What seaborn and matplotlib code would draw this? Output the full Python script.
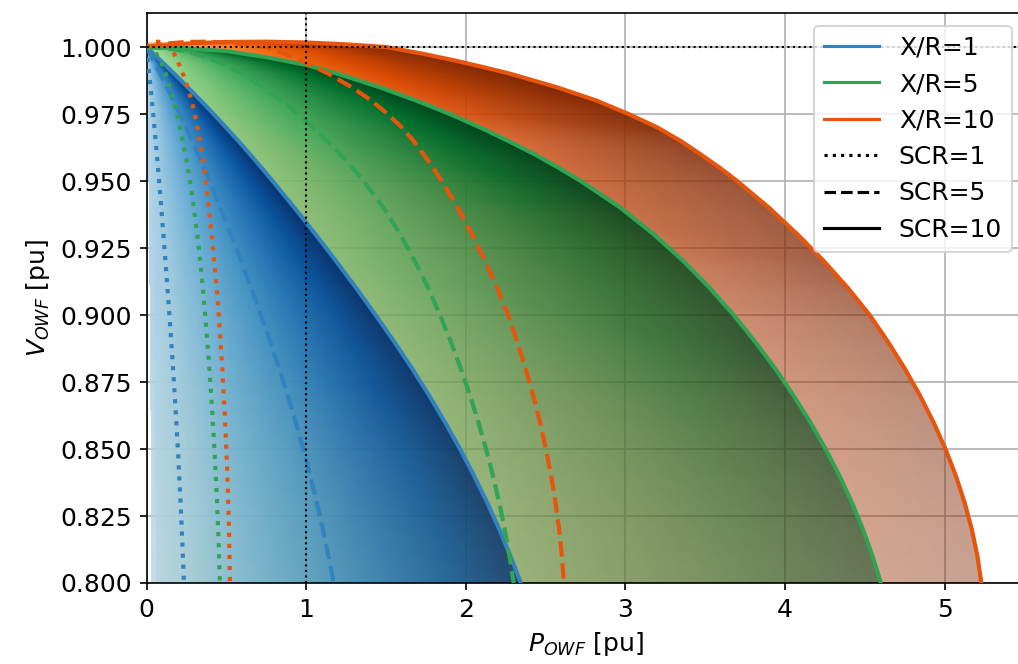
import numpy as np
import pandas as pd
import matplotlib
matplotlib.use("Agg")
import matplotlib.pyplot as plt
from matplotlib.lines import Line2D
import seaborn as sns

plt.rcParams['font.size'] = 12

# ---- values: V_OWF [pu] and P_OWF [pu] per curve ----
# X/R = 1
v_xr1 = [1.000, 0.995, 0.990, 0.985, 0.980, 0.975, 0.970, 0.965, 0.960, 0.955,
         0.950, 0.940, 0.930, 0.920, 0.910, 0.900, 0.890, 0.880, 0.870, 0.860,
         0.850, 0.840, 0.830, 0.820, 0.810, 0.800]
p_xr1_scr10 = [0, 0.088, 0.174, 0.258, 0.340, 0.420, 0.498, 0.574, 0.648, 0.720,
               0.790, 0.927, 1.060, 1.189, 1.314, 1.435, 1.552, 1.664, 1.770, 1.870,
               1.964, 2.052, 2.134, 2.210, 2.280, 2.345]
p_xr1_scr5 = [0, 0.044, 0.087, 0.129, 0.170, 0.210, 0.249, 0.287, 0.324, 0.360,
              0.395, 0.4635, 0.530, 0.5945, 0.657, 0.7175, 0.776, 0.832, 0.885, 0.935,
              0.982, 1.026, 1.067, 1.105, 1.140, 1.1725]
p_xr1_scr1 = [0, 0.0088, 0.0174, 0.0258, 0.034, 0.042, 0.0498, 0.0574, 0.0648, 0.072,
              0.079, 0.0927, 0.106, 0.1189, 0.1314, 0.1435, 0.1552, 0.1664, 0.177, 0.187,
              0.1964, 0.2052, 0.2134, 0.221, 0.228, 0.2345]

# X/R = 5
v_xr5 = [1.000, 0.9995, 0.9985, 0.9962, 0.9933, 0.990, 0.985, 0.980, 0.975, 0.970,
         0.965, 0.960, 0.955, 0.950, 0.940, 0.930, 0.920, 0.910, 0.900, 0.890,
         0.880, 0.870, 0.860, 0.850, 0.840, 0.830, 0.820, 0.810, 0.800]
p_xr5_scr10 = [0, 0.25, 0.5, 0.75, 1.0, 1.20, 1.46, 1.69, 1.90, 2.09,
               2.265, 2.43, 2.58, 2.72, 2.97, 3.18, 3.365, 3.53, 3.678, 3.813,
               3.938, 4.053, 4.158, 4.254, 4.341, 4.419, 4.488, 4.548, 4.60]
p_xr5_scr5 = [0, 0.125, 0.25, 0.375, 0.5, 0.60, 0.73, 0.845, 0.95, 1.045,
              1.1325, 1.215, 1.29, 1.36, 1.485, 1.59, 1.6825, 1.765, 1.839, 1.9065,
              1.969, 2.0265, 2.079, 2.127, 2.1705, 2.2095, 2.244, 2.274, 2.30]
p_xr5_scr1 = [0, 0.025, 0.05, 0.075, 0.1, 0.12, 0.146, 0.169, 0.19, 0.209,
              0.2265, 0.243, 0.258, 0.272, 0.297, 0.318, 0.3365, 0.353, 0.3678, 0.3813,
              0.3938, 0.4053, 0.4158, 0.4254, 0.4341, 0.4419, 0.4488, 0.4548, 0.46]

# X/R = 10 (first rises a little above 1 pu)
v_xr10 = [1.000, 1.0013, 1.0019, 1.0020, 1.0017, 1.0010, 1.000, 0.9975, 0.995,
          0.9925, 0.990, 0.985, 0.980, 0.975, 0.970, 0.965, 0.960, 0.955, 0.950,
          0.940, 0.930, 0.920, 0.910, 0.900, 0.890, 0.880, 0.870, 0.860, 0.850,
          0.840, 0.830, 0.820, 0.810, 0.800]
p_xr10_scr10 = [0, 0.25, 0.5, 0.75, 1.0, 1.25, 1.5, 1.73, 1.93,
                2.11, 2.28, 2.57, 2.82, 3.02, 3.20, 3.345, 3.47, 3.59, 3.70,
                3.90, 4.08, 4.245, 4.395, 4.53, 4.645, 4.75, 4.845, 4.93, 5.005,
                5.07, 5.125, 5.17, 5.205, 5.23]
p_xr10_scr5 = [0, 0.125, 0.25, 0.375, 0.5, 0.625, 0.75, 0.865, 0.965,
               1.055, 1.14, 1.285, 1.41, 1.51, 1.60, 1.672, 1.735, 1.795, 1.85,
               1.95, 2.04, 2.122, 2.198, 2.265, 2.322, 2.375, 2.422, 2.465, 2.502,
               2.535, 2.562, 2.585, 2.602, 2.615]
p_xr10_scr1 = [0, 0.025, 0.05, 0.075, 0.1, 0.125, 0.15, 0.173, 0.193,
               0.211, 0.228, 0.257, 0.282, 0.302, 0.32, 0.334, 0.347, 0.359, 0.37,
               0.39, 0.408, 0.424, 0.44, 0.453, 0.464, 0.475, 0.484, 0.493, 0.5,
               0.507, 0.512, 0.517, 0.52, 0.523]

xr_labels = ['X/R=1', 'X/R=5', 'X/R=10']
line_colors = ['#3182bd', '#31a354', '#e6550d']
shade_cmaps = ['Blues', 'Greens', 'Oranges']

curves = {
    ('X/R=1', 10): (p_xr1_scr10, v_xr1),
    ('X/R=1', 5): (p_xr1_scr5, v_xr1),
    ('X/R=1', 1): (p_xr1_scr1, v_xr1),
    ('X/R=5', 10): (p_xr5_scr10, v_xr5),
    ('X/R=5', 5): (p_xr5_scr5, v_xr5),
    ('X/R=5', 1): (p_xr5_scr1, v_xr5),
    ('X/R=10', 10): (p_xr10_scr10, v_xr10),
    ('X/R=10', 5): (p_xr10_scr5, v_xr10),
    ('X/R=10', 1): (p_xr10_scr1, v_xr10),
}
df = pd.concat([pd.DataFrame({'P': p, 'V': v, 'XR': xr, 'SCR': scr})
                for (xr, scr), (p, v) in curves.items()], ignore_index=True)

# figure geometry (the right spine sits just past the picture edge)
W_FIG, H_FIG, DPI = 1018, 664, 150
fig = plt.figure(figsize=(W_FIG / DPI, H_FIG / DPI), dpi=DPI)
ax_l, ax_b, ax_w, ax_h = 146.5, 81, 878, 570
ax = fig.add_axes([ax_l / W_FIG, ax_b / H_FIG, ax_w / W_FIG, ax_h / H_FIG])
xlim = (0, 5.5)
ylim = (0.8, 1.0127)

# ---- shading of the weaker grids (SCR < 10), drawn as one image ----
sx = ax_w / (xlim[1] - xlim[0])
sy = ax_h / (ylim[1] - ylim[0])
P = xlim[0] + (np.arange(int(ax_w)) + 0.5) / sx
V = ylim[1] - (np.arange(ax_h) + 0.5) / sy

LW_PX, ALPHA, DT, C0, TMIN = 2.5, 0.72, 0.005, 0.3, 0.012


def coverage(n):
    k = np.floor(n)
    f = n - k
    return (1 - f) * (1 - (1 - ALPHA) ** k) + f * (1 - (1 - ALPHA) ** (k + 1))


rgb = np.zeros((len(V), len(P), 3))
A = np.zeros((len(V), len(P)))
for xr, cmap_name in list(zip(xr_labels, shade_cmaps))[::-1]:
    p, v = curves[(xr, 10)]
    p = np.asarray(p, float)
    v = np.asarray(v, float)
    k = np.argmax(v)
    vs, ps = v[k:][::-1], p[k:][::-1]
    F = np.interp(V, vs, ps, left=np.nan, right=np.nan)
    valid = np.isfinite(F) & (F > 1e-6)
    idx = np.where(valid)[0]
    dF = np.zeros(len(V))
    g = np.gradient(F[idx], V[idx])
    g = np.convolve(np.pad(g, 7, mode='edge'), np.ones(15) / 15, mode='valid')
    dF[idx] = g
    with np.errstate(all='ignore'):
        FF = F[:, None]
        t = P[None, :] / FF
        gp = 1 / (FF * sx)
        gv = P[None, :] * np.abs(dF)[:, None] / (FF ** 2 * sy)
        n = np.clip(LW_PX * np.hypot(gp, gv) / DT, 0, 60)
        a = coverage(n)
        mask = valid[:, None] & (t >= TMIN) & (t <= 1)
        a = np.nan_to_num(np.where(mask, a, 0.0))
    col = plt.get_cmap(cmap_name)(C0 + (1 - C0) * np.clip(np.nan_to_num(t), 0, 1))[..., :3]
    rgb = col * a[..., None] + rgb * (1 - a[..., None])
    A = a + A * (1 - a)

img = np.clip(np.dstack([rgb / np.maximum(A, 1e-9)[..., None], A]), 0, 1)
ax.imshow(img, extent=(xlim[0], xlim[1], ylim[0], ylim[1]), origin='upper',
          aspect='auto', interpolation='nearest', zorder=1)

# ---- main curves ----
palette = dict(zip(xr_labels, line_colors))
for scr, ls in [(10, '-'), (5, '--'), (1, ':')]:
    sns.lineplot(data=df[df['SCR'] == scr], x='P', y='V', hue='XR',
                 hue_order=xr_labels, palette=palette, sort=False,
                 estimator=None, lw=2, linestyle=ls, legend=False,
                 ax=ax, zorder=3)

ax.axvline(1, color='k', ls=':', lw=1, zorder=4)
ax.axhline(1, color='k', ls=':', lw=1, zorder=4)

ax.set_xlim(*xlim)
ax.set_ylim(*ylim)
ax.set_xticks([0, 1, 2, 3, 4, 5])
ax.set_axisbelow(True)
ax.grid(True)
ax.set_xlabel(r'$P_{OWF}$ [pu]')
ax.set_ylabel(r'$V_{OWF}$ [pu]')

handles = [Line2D([], [], color=c, lw=1.5, label=l) for l, c in zip(xr_labels, line_colors)]
handles += [Line2D([], [], color='k', lw=1.5, ls=ls, label=f'SCR={s}')
            for s, ls in [(1, ':'), (5, '--'), (10, '-')]]
ax.legend(handles=handles, loc='upper right', handlelength=2.2)

fig.savefig('out.png', dpi=DPI)
